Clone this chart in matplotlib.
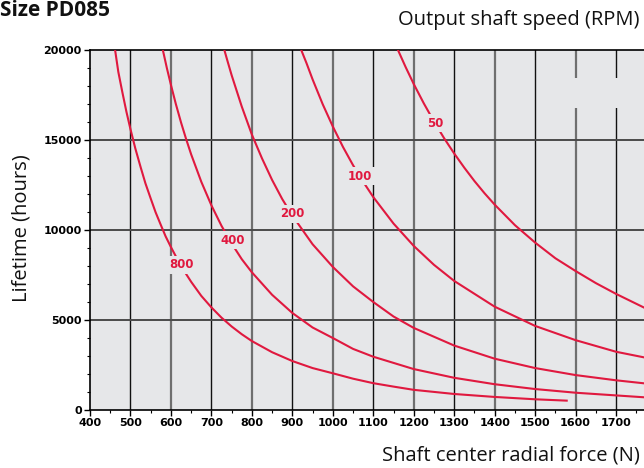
import matplotlib
matplotlib.use("Agg")
import matplotlib.pyplot as plt
from matplotlib.patches import Rectangle
from matplotlib.ticker import MultipleLocator

# Lifetime curves (hours) vs shaft center radial force (N), one per output speed
force_800 = [462, 470, 480, 490, 500, 512, 525, 537, 550, 562, 575, 587, 600, 625, 650,
             675, 700, 725, 750, 775, 800, 850, 900, 950, 1000, 1050, 1100, 1150, 1200,
             1300, 1400, 1500, 1578]
life_800 = [20000, 18780, 17650, 16570, 15600, 14530, 13500, 12590, 11750, 10990, 10280,
            9640, 9050, 7990, 7120, 6340, 5700, 5130, 4640, 4210, 3830, 3210, 2720, 2330,
            2040, 1740, 1490, 1300, 1120, 890, 725, 595, 520]

force_400 = [580, 590, 600, 612, 625, 637, 650, 675, 700, 725, 750, 775, 800, 850, 900,
             950, 1000, 1050, 1100, 1200, 1300, 1400, 1500, 1600, 1700, 1770]
life_400 = [20000, 18990, 18060, 17010, 15970, 15090, 14200, 12680, 11370, 10230, 9250,
            8380, 7650, 6400, 5391, 4584, 4000, 3395, 2960, 2274, 1789, 1432, 1164, 960,
            810, 705]

force_200 = [732, 740, 750, 775, 800, 825, 850, 875, 900, 950, 1000, 1050, 1100, 1150,
             1200, 1300, 1400, 1500, 1600, 1700, 1770]
life_200 = [20000, 19370, 18600, 16860, 15300, 13980, 12780, 11720, 10800, 9210, 7950,
            6870, 6000, 5195, 4560, 3580, 2850, 2330, 1940, 1650, 1480]

force_100 = [922, 935, 950, 975, 1000, 1025, 1050, 1075, 1100, 1150, 1200, 1250, 1300,
             1400, 1500, 1600, 1700, 1770]
life_100 = [20000, 19270, 18370, 16990, 15750, 14620, 13600, 12680, 11830, 10360, 9115,
            8065, 7170, 5740, 4670, 3880, 3235, 2920]

force_50 = [1161, 1180, 1200, 1225, 1250, 1275, 1300, 1325, 1350, 1375, 1400, 1450, 1500,
            1550, 1600, 1650, 1700, 1770]
life_50 = [20000, 19050, 18110, 17030, 16030, 15100, 14250, 13460, 12720, 12040, 11410,
           10270, 9300, 8430, 7720, 7050, 6450, 5680]

speeds = ["800", "400", "200", "100", "50"]
forces = [force_800, force_400, force_200, force_100, force_50]
lives = [life_800, life_400, life_200, life_100, life_50]
# label anchor points (N, hours)
label_force = [627, 753, 899, 1067, 1252]
label_life = [8056, 9444, 10889, 13000, 15944]

x_ticks = list(range(400, 1800, 100))
y_ticks = [0, 5000, 10000, 15000, 20000]

BG = "#e6e7e9"
RED = "#e0193f"
LABEL_FONT = ["Open Sans", "DejaVu Sans"]

fig = plt.figure(figsize=(6.44, 4.68), dpi=100)
ax = fig.add_axes([90 / 644, 58 / 468, 554 / 644, 360 / 468])
ax.set_facecolor(BG)
ax.set_xlim(400, 1769)
ax.set_ylim(0, 20000)

# grid: alternating vertical lines, dark horizontal lines
for x in x_ticks[1:]:
    if (x // 100) % 2 == 0:
        ax.axvline(x, color="#6f6f6f", lw=1.6, zorder=1)
    else:
        ax.axvline(x, color="#111111", lw=1.0, zorder=1)
for y in y_ticks[1:-1]:
    ax.axhline(y, color="#4a4a4a", lw=1.4, zorder=1)

# blank patch in the upper right of the grid
ax.add_patch(Rectangle((1575, 16800), 200, 1650, facecolor=BG, edgecolor="none", zorder=1.5))

for f, l in zip(forces, lives):
    ax.plot(f, l, color=RED, lw=1.5, zorder=3, solid_joinstyle="round")

for s, fx, ly in zip(speeds, label_force, label_life):
    ax.text(fx, ly, s, color=RED, fontsize=8.5, fontweight="bold", ha="center", va="center",
            zorder=5, bbox=dict(boxstyle="square,pad=0.25", facecolor=BG, edgecolor="none"))

for side in ["top", "left", "bottom"]:
    ax.spines[side].set_color("black")
    ax.spines[side].set_linewidth(1.2)
ax.spines["right"].set_visible(False)

ax.set_xticks(x_ticks)
ax.set_yticks(y_ticks)
ax.xaxis.set_minor_locator(MultipleLocator(50))
ax.yaxis.set_minor_locator(MultipleLocator(1000))
ax.tick_params(which="major", direction="out", length=4, width=1, colors="black",
               labelsize=8, pad=2)
ax.tick_params(which="minor", direction="out", length=2.5, width=0.8, colors="black")
for lab in ax.get_xticklabels() + ax.get_yticklabels():
    lab.set_fontweight("bold")

fig.text(640 / 644, 1 - 20 / 468, "Output shaft speed (RPM)", ha="right", va="center",
         fontsize=14.5, family=LABEL_FONT, color="#111111")
fig.text(640 / 644, 1 - 455 / 468, "Shaft center radial force (N)", ha="right", va="center",
         fontsize=14.5, family=LABEL_FONT, color="#111111")
fig.text(22 / 644, 1 - 228 / 468, "Lifetime (hours)", ha="center", va="center",
         rotation=90, fontsize=14.5, family=LABEL_FONT, color="#111111")
fig.text(0, 1 - 16 / 468, "Size PD085", ha="left", va="baseline", fontsize=15,
         fontweight="bold", family=["Open Sans", "DejaVu Sans"], color="#111111")

fig.savefig("out.png", dpi=100)
